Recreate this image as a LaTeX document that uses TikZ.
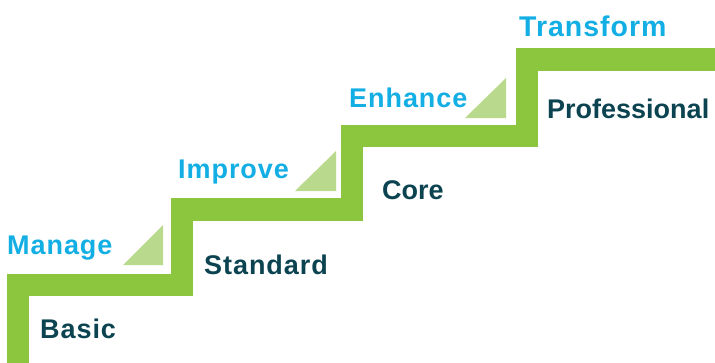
\documentclass[tikz,border=0pt]{standalone}
\usepackage{fontspec}
\setmainfont{Liberation Sans}
\newfontfamily\widesans[LetterSpace=3.5]{Liberation Sans}
\definecolor{stairgreen}{HTML}{8CC63F}
\definecolor{trigreen}{HTML}{B9DA8C}
\definecolor{cyanlab}{HTML}{12AEE4}
\definecolor{darklab}{HTML}{0C4350}
\begin{document}
\begin{tikzpicture}[x=1pt,y=-1pt,
  stair/.style={draw=stairgreen,line width=22.5pt,line join=miter,line cap=butt},
  tri/.style={fill=trigreen,draw=none},
  actlab/.style={font=\widesans\bfseries\fontsize{27}{27}\selectfont,text=cyanlab,anchor=base west,inner sep=0pt},
  lvllab/.style={font=\bfseries\fontsize{27}{27}\selectfont,text=darklab,anchor=base west,inner sep=0pt}]
\useasboundingbox (0,0) rectangle (715,362);
% staircase
\coordinate (s0) at (18,370);
\coordinate (s1) at (18,285);
\coordinate (s2) at (182,285);
\coordinate (s3) at (182,209.5);
\coordinate (s4) at (352,209.5);
\coordinate (s5) at (352,136);
\coordinate (s6) at (527,136);
\coordinate (s7) at (527,59.5);
\coordinate (s8) at (725,59.5);
\draw[stair] (s0) -- (s1) -- (s2) -- (s3) -- (s4) -- (s5) -- (s6) -- (s7) -- (s8);
% triangles
\fill[tri] (123,265) -- (163,265) -- (163,225) -- cycle;
\fill[tri] (295,191) -- (336,191) -- (336,151) -- cycle;
\fill[tri] (465,118) -- (506,118) -- (506,78) -- cycle;
% labels
\node[actlab] (manage) at (7,254) {Manage};
\node[actlab] (improve) at (178,178) {Improve};
\node[actlab] (enhance) at (349,107) {Enhance};
\node[actlab,font=\widesans\bfseries\fontsize{28.5}{28.5}\selectfont] (transform) at (519,36) {Transform};
\node[lvllab,font=\widesans\bfseries\fontsize{27}{27}\selectfont] (basic) at (40,338) {Basic};
\node[lvllab,font=\widesans\bfseries\fontsize{27}{27}\selectfont] (standard) at (204,274) {Standard};
\node[lvllab] (core) at (382,199) {Core};
\node[lvllab] (professional) at (547,118) {Professional};
\end{tikzpicture}
\end{document}
